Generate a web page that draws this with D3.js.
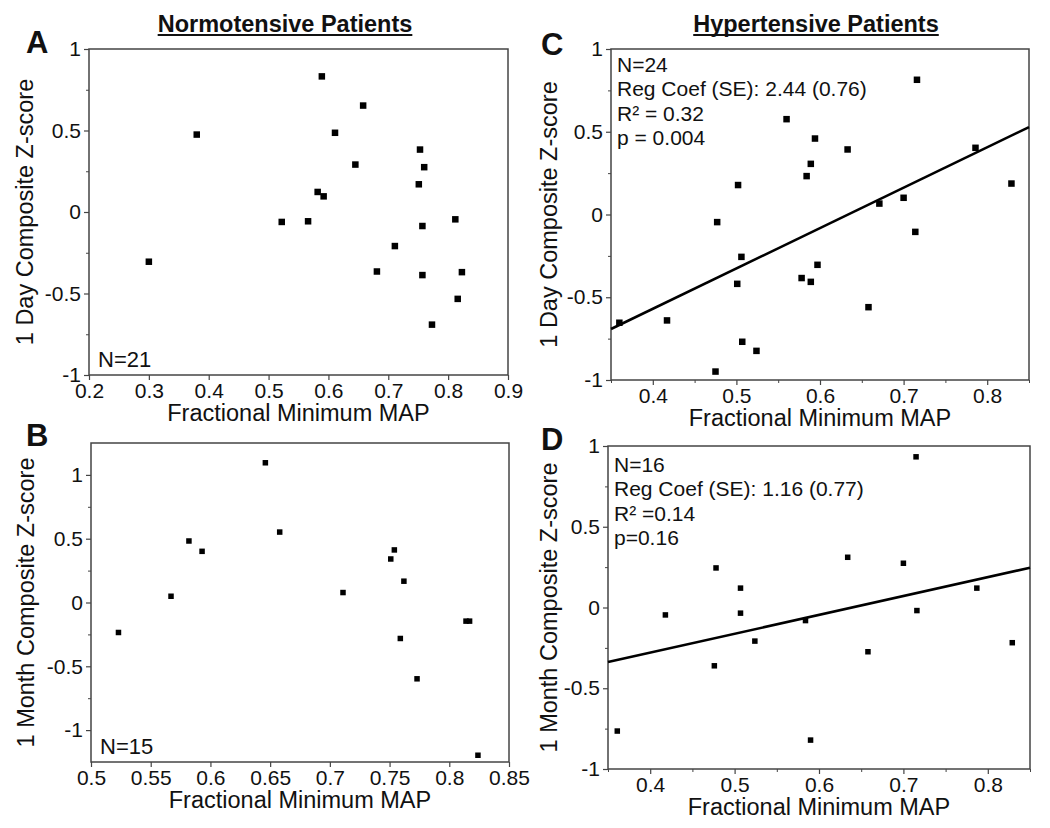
<!DOCTYPE html>
<html><head><meta charset="utf-8">
<script src="https://cdn.jsdelivr.net/npm/d3@7"></script>
<style>
body{margin:0;background:#fff}
svg{display:block}
text{font-family:"Liberation Sans", Arial, Helvetica, sans-serif; fill:#111}
</style>
</head><body>
<svg id="chart" width="1050" height="828"></svg>
<script>
// ---- Data ----
// A: Normotensive, 1 day
const normDayX = [0.38,0.589,0.658,0.611,0.753,0.645,0.760,0.751,0.582,0.592,0.522,0.566,0.812,0.757,0.711,0.300,0.681,0.757,0.823,0.816,0.773];
const normDayY = [0.475,0.832,0.653,0.486,0.383,0.291,0.275,0.170,0.123,0.096,-0.061,-0.057,-0.045,-0.086,-0.209,-0.305,-0.365,-0.387,-0.369,-0.533,-0.691];
// B: Normotensive, 1 month
const normMonthX = [0.646,0.658,0.582,0.593,0.754,0.751,0.762,0.567,0.711,0.523,0.814,0.817,0.759,0.773,0.824];
const normMonthY = [1.095,0.552,0.482,0.401,0.412,0.341,0.167,0.049,0.078,-0.235,-0.146,-0.146,-0.282,-0.598,-1.197];
// C: Hypertensive, 1 day
const hyperDayX = [0.716,0.560,0.594,0.633,0.786,0.589,0.584,0.502,0.829,0.671,0.700,0.477,0.714,0.506,0.597,0.578,0.589,0.501,0.658,0.417,0.360,0.507,0.524,0.475];
const hyperDayY = [0.814,0.576,0.459,0.393,0.403,0.306,0.232,0.178,0.187,0.066,0.101,-0.046,-0.105,-0.256,-0.304,-0.384,-0.407,-0.419,-0.560,-0.640,-0.654,-0.769,-0.824,-0.949];
const hyperDayFitX = [0.35,0.85];
const hyperDayFitY = [-0.692,0.528];
// D: Hypertensive, 1 month
const hyperMonthX = [0.715,0.634,0.700,0.478,0.507,0.787,0.418,0.507,0.716,0.584,0.524,0.829,0.658,0.476,0.361,0.590];
const hyperMonthY = [0.933,0.311,0.274,0.245,0.120,0.120,-0.046,-0.035,-0.019,-0.081,-0.208,-0.218,-0.274,-0.361,-0.765,-0.821];
const hyperMonthFitX = [0.35,0.85];
const hyperMonthFitY = [-0.338,0.246];

// Tick labels
const ticksA_X = [0.2,0.3,0.4,0.5,0.6,0.7,0.8,0.9];
const ticksB_X = [0.5,0.55,0.6,0.65,0.7,0.75,0.8,0.85];
const ticksCD_X = [0.4,0.5,0.6,0.7,0.8];
const minorCD_X = [0.35,0.45,0.55,0.65,0.75,0.85];
const ticksY = [-1,-0.5,0,0.5,1];
const minorY = [-1.25,-0.75,-0.25,0.25,0.75,1.25];

const colTitles = ["Normotensive Patients","Hypertensive Patients"];
const xTitle = "Fractional Minimum MAP";
const yTitles = ["1 Day Composite Z-score","1 Month Composite Z-score"];
const notesA = ["N=21"];
const notesB = ["N=15"];
const notesC = ["N=24","Reg Coef (SE): 2.44 (0.76)","R\u00B2 = 0.32","p = 0.004"];
const notesD = ["N=16","Reg Coef (SE): 1.16 (0.77)","R\u00B2 =0.14","p=0.16"];

// ---- Layout ----
const panels = [
  {letter:"A", lx:26, ly:53, xs:normDayX, ys:normDayY, box:[89,49,508,375], xd:[0.2,0.9], yd:[-1,1],
   xMajor:ticksA_X, xMinor:[], ytitle:yTitles[0], ytx:33, notes:notesA, noteMode:"bottom", ms:6.5},
  {letter:"B", lx:26, ly:446, xs:normMonthX, ys:normMonthY, box:[91,443,509,762], xd:[0.5,0.85], yd:[-1.25,1.25],
   xMajor:ticksB_X, xMinor:[], ytitle:yTitles[1], ytx:34, notes:notesB, noteMode:"bottom", ms:5.5},
  {letter:"C", lx:541, ly:55, xs:hyperDayX, ys:hyperDayY, box:[611,49,1029,380], xd:[0.35,0.85], yd:[-1,1],
   xMajor:ticksCD_X, xMinor:minorCD_X, ytitle:yTitles[0], ytx:557, notes:notesC, noteMode:"top", nfirst:23, ms:6.5,
   fitX:hyperDayFitX, fitY:hyperDayFitY},
  {letter:"D", lx:541, ly:450, xs:hyperMonthX, ys:hyperMonthY, box:[608,446,1030,769], xd:[0.35,0.85], yd:[-1,1],
   xMajor:ticksCD_X, xMinor:minorCD_X, ytitle:yTitles[1], ytx:557, notes:notesD, noteMode:"top", nfirst:26, ms:5.5,
   fitX:hyperMonthFitX, fitY:hyperMonthFitY}
];

const svg = d3.select("#chart");
const fmt = d => String(+(+d).toFixed(2));
const axisCol = "#444";

panels.forEach(p => {
  const [x0,y0,x1,y1] = p.box;
  const x = d3.scaleLinear().domain(p.xd).range([x0,x1]);
  const y = d3.scaleLinear().domain(p.yd).range([y1,y0]);
  const g = svg.append("g");

  // frame
  g.append("rect").attr("x",x0).attr("y",y0).attr("width",x1-x0).attr("height",y1-y0)
    .attr("fill","none").attr("stroke",axisCol).attr("stroke-width",1.5);

  // y axis major
  const yMaj = ticksY.filter(v => v>=p.yd[0]-1e-9 && v<=p.yd[1]+1e-9);
  const ya = g.append("g").attr("transform",`translate(${x0},0)`)
    .call(d3.axisLeft(y).tickValues(yMaj).tickSize(5).tickPadding(3).tickFormat(fmt));
  ya.select(".domain").remove();
  ya.selectAll("line").attr("stroke",axisCol).attr("stroke-width",1.2);
  ya.selectAll("text").attr("font-size",21).style("fill","#111").attr("font-family","Liberation Sans, Arial, sans-serif");
  const yMin = minorY.filter(v => v>p.yd[0]+1e-9 && v<p.yd[1]-1e-9);
  const ym = g.append("g").attr("transform",`translate(${x0},0)`)
    .call(d3.axisLeft(y).tickValues(yMin).tickSize(3).tickFormat(""));
  ym.select(".domain").remove();
  ym.selectAll("line").attr("stroke",axisCol).attr("stroke-width",1);

  // x axis
  const xa = g.append("g").attr("transform",`translate(0,${y1})`)
    .call(d3.axisBottom(x).tickValues(p.xMajor).tickSize(5).tickPadding(3).tickFormat(fmt));
  xa.select(".domain").remove();
  xa.selectAll("line").attr("stroke",axisCol).attr("stroke-width",1.2);
  xa.selectAll("text").attr("font-size",21).style("fill","#111").attr("font-family","Liberation Sans, Arial, sans-serif");
  if (p.xMinor.length) {
    const xm = g.append("g").attr("transform",`translate(0,${y1})`)
      .call(d3.axisBottom(x).tickValues(p.xMinor).tickSize(3).tickFormat(""));
    xm.select(".domain").remove();
    xm.selectAll("line").attr("stroke",axisCol).attr("stroke-width",1);
  }

  // axis titles
  g.append("text").attr("x",(x0+x1)/2).attr("y",y1+46).attr("text-anchor","middle")
    .attr("font-size",23.5).text(xTitle);
  g.append("text").attr("transform",`translate(${p.ytx},${(y0+y1)/2}) rotate(-90)`)
    .attr("text-anchor","middle").attr("font-size",23.5).text(p.ytitle);

  // panel letter
  g.append("text").attr("x",p.lx).attr("y",p.ly).attr("font-size",31).attr("font-weight","bold").text(p.letter);

  // regression line
  if (p.fitX) {
    g.append("line").attr("x1",x(p.fitX[0])).attr("y1",y(p.fitY[0]))
      .attr("x2",x(p.fitX[1])).attr("y2",y(p.fitY[1]))
      .attr("stroke","#000").attr("stroke-width",2.6);
  }

  // points
  const pts = p.xs.map((v,i)=>({x:v,y:p.ys[i]}));
  g.selectAll("rect.pt").data(pts).enter().append("rect").attr("class","pt")
    .attr("x",d=>x(d.x)-p.ms/2).attr("y",d=>y(d.y)-p.ms/2)
    .attr("width",p.ms).attr("height",p.ms).attr("fill","#000");

  // notes
  if (p.noteMode === "bottom") {
    g.append("text").attr("x",x0+9).attr("y",y1-8).attr("font-size",22).text(p.notes[0]);
  } else {
    p.notes.forEach((t,i)=>{
      g.append("text").attr("x",x0+6).attr("y",y0+p.nfirst+i*24.4).attr("font-size",21).text(t);
    });
  }
});

// column titles (bold, underlined)
[[285,colTitles[0]],[816,colTitles[1]]].forEach(([cx,t])=>{
  const tt = svg.append("text").attr("x",cx).attr("y",32).attr("text-anchor","middle")
    .attr("font-size",23.5).attr("font-weight","bold").text(t);
  const w = tt.node().getComputedTextLength();
  svg.append("line").attr("x1",cx-w/2).attr("x2",cx+w/2).attr("y1",35).attr("y2",35)
    .attr("stroke","#111").attr("stroke-width",1.8);
});
</script>
</body></html>
